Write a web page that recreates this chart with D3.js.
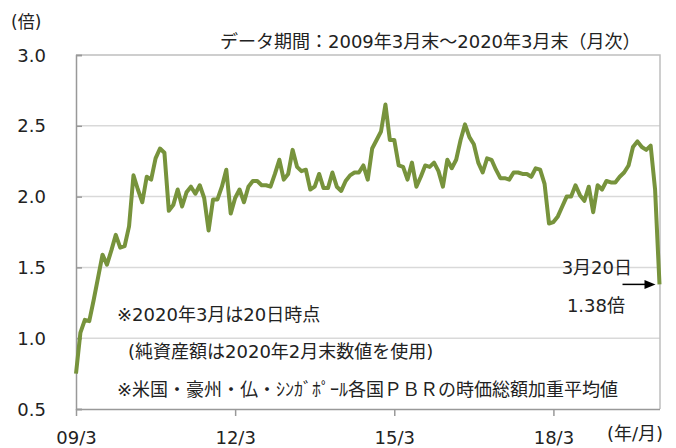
<!DOCTYPE html>
<html>
<head>
<meta charset="utf-8">
<script src="https://cdn.jsdelivr.net/npm/d3@7"></script>
<style>
    body { margin: 0; background: #fff; }
    text { font-family: "DejaVu Sans", "Noto Sans CJK JP", sans-serif; fill: #222; }
</style>
</head>
<body>
<div id="chart"></div>
<script>
// monthly PBR, 2009/3 .. 2020/3 (last point = 3/20)
const pbr = [
    0.75, 1.04, 1.13, 1.12, 1.27, 1.43, 1.59, 1.52, 1.62, 1.73, 1.64, 1.65,
    1.79, 2.15, 2.05, 1.96, 2.14, 2.12, 2.27, 2.34, 2.31, 1.90, 1.94, 2.05,
    1.93, 2.03, 2.07, 2.02, 2.08, 1.99, 1.76, 1.98, 1.98, 2.07, 2.19, 1.88,
    1.99, 2.05, 1.96, 2.07, 2.11, 2.11, 2.08, 2.08, 2.07, 2.16, 2.26, 2.12,
    2.16, 2.33, 2.21, 2.18, 2.19, 2.05, 2.07, 2.16, 2.06, 2.06, 2.17, 2.07,
    2.04, 2.11, 2.15, 2.17, 2.17, 2.22, 2.12, 2.34, 2.40, 2.46, 2.65, 2.40,
    2.40, 2.22, 2.21, 2.12, 2.24, 2.07, 2.14, 2.22, 2.21, 2.24, 2.18, 2.07,
    2.26, 2.20, 2.26, 2.40, 2.51, 2.42, 2.37, 2.24, 2.17, 2.27, 2.26, 2.19,
    2.13, 2.13, 2.12, 2.17, 2.17, 2.16, 2.16, 2.14, 2.20, 2.19, 2.09, 1.81,
    1.82, 1.86, 1.93, 2.00, 2.00, 2.08, 2.01, 1.97, 2.07, 1.89, 2.08, 2.05,
    2.11, 2.10, 2.10, 2.14, 2.17, 2.22, 2.35, 2.39, 2.35, 2.33, 2.36, 2.05,
    1.38
];

const xTickIndex = [0, 36, 72, 108];
const xTickLabels = ["09/3", "12/3", "15/3", "18/3"];
const yTicks = [0.5, 1.0, 1.5, 2.0, 2.5, 3.0];

const notes = [
    "※2020年3月は20日時点",
    "(純資産額は2020年2月末数値を使用)",
    "※米国・豪州・仏・ｼﾝｶﾞﾎﾟｰﾙ各国ＰＢＲの時価総額加重平均値"
];

function createVis(selector) {
    const dims = { width: 676, height: 448 };
    const plot = { left: 76, right: 660, top: 55, bottom: 409 };

    const svg = d3.select(selector)
        .append("svg")
        .attr("width", dims.width)
        .attr("height", dims.height);

    const xScale = d3.scaleLinear()
        .domain([0, pbr.length - 1])
        .range([plot.left, plot.right - 0.5]);

    const yScale = d3.scaleLinear()
        .domain([0.5, 3.0])
        .range([plot.bottom, plot.top]);

    // gridlines
    svg.append("g")
        .selectAll("line")
        .data(yTicks.slice(1, -1))
        .join("line")
        .attr("x1", plot.left)
        .attr("x2", plot.right)
        .attr("y1", d => yScale(d))
        .attr("y2", d => yScale(d))
        .style("stroke", "#d9d9d9")
        .style("stroke-width", 1.5);

    // frame top/right
    svg.append("path")
        .attr("d", `M${plot.left},${plot.top}H${plot.right}V${plot.bottom}`)
        .style("fill", "none")
        .style("stroke", "#bfbfbf")
        .style("stroke-width", 1.5);

    // y axis: inward ticks
    const yAxis = d3.axisRight(yScale)
        .tickValues(yTicks)
        .tickSize(6)
        .tickFormat("");
    svg.append("g")
        .attr("transform", `translate(${plot.left},0)`)
        .call(yAxis)
        .call(g => g.selectAll("line, path").style("stroke", "#999").style("stroke-width", 1.5));

    svg.append("g")
        .selectAll("text")
        .data(yTicks)
        .join("text")
        .attr("x", 46)
        .attr("y", d => yScale(d) + 6.5)
        .style("text-anchor", "end")
        .style("font-size", "18px")
        .text(d => d.toFixed(1));

    // x axis
    const xAxis = d3.axisBottom(xScale)
        .tickValues(xTickIndex)
        .tickSize(7)
        .tickSizeOuter(0)
        .tickFormat((d, i) => xTickLabels[i]);
    svg.append("g")
        .attr("transform", `translate(0,${plot.bottom})`)
        .call(xAxis)
        .call(g => g.selectAll("line, path").style("stroke", "#999").style("stroke-width", 1.5))
        .call(g => g.selectAll("text")
            .attr("y", 0)
            .attr("dy", 0)
            .attr("transform", "translate(0,35)")
            .style("font-size", "18px")
            .style("font-family", "\"DejaVu Sans\", sans-serif")
            .style("fill", "#222"));

    // line
    const line = d3.line()
        .x((d, i) => xScale(i))
        .y(d => yScale(d));

    svg.append("path")
        .datum(pbr)
        .attr("d", line)
        .style("fill", "none")
        .style("stroke", "#77933c")
        .style("stroke-width", 4)
        .style("stroke-linejoin", "round");

    // texts
    svg.append("text")
        .attr("x", 11).attr("y", 28)
        .style("font-size", "17px")
        .text("(倍)");

    svg.append("text")
        .attr("x", 220).attr("y", 48)
        .style("font-size", "18px")
        .text("データ期間：2009年3月末～2020年3月末（月次）");

    svg.append("text")
        .attr("x", 663).attr("y", 440)
        .style("text-anchor", "end")
        .style("font-size", "18px")
        .text("(年/月)");

    const noteX = [117, 128, 117];
    const noteY = [321, 358, 396];
    svg.append("g")
        .selectAll("text")
        .data(notes)
        .join("text")
        .attr("x", (d, i) => noteX[i])
        .attr("y", (d, i) => noteY[i])
        .style("font-size", "18px")
        .text(d => d);

    const last = pbr.length - 1;
    svg.append("text")
        .attr("x", 632).attr("y", 274)
        .style("text-anchor", "end")
        .style("font-size", "18px")
        .text("3月20日");

    svg.append("text")
        .attr("x", 625).attr("y", 312)
        .style("text-anchor", "end")
        .style("font-size", "18px")
        .text(d3.format(".2f")(pbr[last]) + "倍");

    // arrow to last point
    const ax = xScale(last) - 4;
    const ay = yScale(pbr[last]);
    svg.append("line")
        .attr("x1", ax - 33).attr("x2", ax - 8)
        .attr("y1", ay).attr("y2", ay)
        .style("stroke", "#000")
        .style("stroke-width", 1.5);
    svg.append("path")
        .attr("d", `M${ax},${ay}L${ax - 11},${ay - 4.5}L${ax - 11},${ay + 4.5}Z`)
        .style("fill", "#000");
}

createVis("#chart");
</script>
</body>
</html>
